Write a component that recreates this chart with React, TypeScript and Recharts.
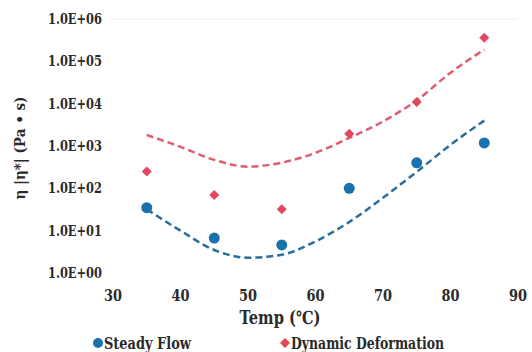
import React from 'react';
import {
  ComposedChart,
  Scatter,
  Line,
  XAxis,
  YAxis,
  ReferenceLine,
} from 'recharts';

// measured points (viscosity in Pa·s)
const temps = [35, 45, 55, 65, 75, 85];
const steadyFlow = [35, 6.7, 4.6, 100, 400, 1180];
const dynamicDeformation = [250, 70, 32, 1940, 11000, 360000];

// trendline readings
const trendTemps = [35, 40, 45, 50, 55, 60, 65, 70, 75, 80, 85];
const steadyTrend = [32, 10, 3.5, 2.3, 2.7, 5.6, 16, 60, 245, 1070, 3980];
const dynamicTrend = [1820, 955, 470, 325, 405, 690, 1550, 3800, 12000, 53700, 190000];

const xTicks = [30, 40, 50, 60, 70, 80, 90];
const yTicks = [1, 10, 100, 1000, 10000, 100000, 1000000];

const BLUE = '#1872ad';
const BLUE_LINE = '#2a6f9c';
const RED = '#e2475d';
const RED_LINE = '#e05d70';
const INK = '#2a2a2a';
const FONT = '"DejaVu Serif", serif';

const steadyData = temps.map((t, i) => ({ temp: t, value: steadyFlow[i] }));
const dynamicData = temps.map((t, i) => ({ temp: t, value: dynamicDeformation[i] }));
const steadyTrendData = trendTemps.map((t, i) => ({ temp: t, value: steadyTrend[i] }));
const dynamicTrendData = trendTemps.map((t, i) => ({ temp: t, value: dynamicTrend[i] }));

const fmtExp = (v: number) =>
  `1.0E+${String(Math.round(Math.log10(v))).padStart(2, '0')}`;

// DejaVu Serif is wide, so labels get squeezed to a Times-like width
const SerifText = ({ width, size, children, ...rest }: any) => (
  <text
    {...rest}
    textLength={width}
    lengthAdjust="spacingAndGlyphs"
    style={{ fontFamily: FONT, fontWeight: 'bold', fontSize: size }}
    fill={INK}
  >
    {children}
  </text>
);

const Dot = (props: any) => (
  <circle cx={props.cx} cy={props.cy} r={5.5} fill={BLUE} />
);

const Diamond = (props: any) => {
  const { cx, cy } = props;
  const s = 5;
  return (
    <polygon
      points={`${cx},${cy - s} ${cx + s},${cy} ${cx},${cy + s} ${cx - s},${cy}`}
      fill={RED}
    />
  );
};

const XTick = (props: any) => {
  const { x, y, payload } = props;
  return (
    <SerifText x={x} y={y + 18} textAnchor="middle" size={16} width={18}>
      {payload.value}
    </SerifText>
  );
};

const YTick = (props: any) => {
  const { x, y, payload } = props;
  return (
    <SerifText x={x} y={y + 5} textAnchor="end" size={15} width={54}>
      {fmtExp(payload.value)}
    </SerifText>
  );
};

const YTitle = (props: any) => {
  const { viewBox } = props;
  const x = viewBox.x + 20;
  const y = viewBox.y + viewBox.height / 2 + 2;
  return (
    <g transform={`rotate(-90 ${x} ${y})`}>
      <SerifText x={x} y={y + 5} textAnchor="middle" size={14} width={103}>
        η |η*| (Pa • s)
      </SerifText>
    </g>
  );
};

const XTitle = (props: any) => {
  const { viewBox } = props;
  return (
    <SerifText x={viewBox.x + 167} y={viewBox.y + 51} textAnchor="middle" size={18} width={81}>
      Temp (℃)
    </SerifText>
  );
};

const legendItems = [
  { name: 'Steady Flow', x: 98, marker: 'circle', color: BLUE, width: 87 },
  { name: 'Dynamic Deformation', x: 285, marker: 'diamond', color: RED, width: 153 },
];

const ChartLegend = () => (
  <svg
    width={532}
    height={22}
    style={{ position: 'absolute', left: 0, top: 332 }}
  >
    {legendItems.map((item) => (
      <g key={item.name}>
        {item.marker === 'circle' ? (
          <circle cx={item.x} cy={11} r={5} fill={item.color} />
        ) : (
          <polygon
            points={`${item.x},6 ${item.x + 5},11 ${item.x},16 ${item.x - 5},11`}
            fill={item.color}
          />
        )}
        <SerifText x={item.x + 6} y={17} size={16} width={item.width}>
          {item.name}
        </SerifText>
      </g>
    ))}
  </svg>
);

export default function App() {
  return (
    <div style={{ position: 'relative', width: 532, height: 352, background: '#fff' }}>
      <style>{'body{margin:0;}'}</style>
      <ComposedChart
        width={532}
        height={352}
        margin={{ top: 19, right: 14, bottom: 49, left: 0 }}
      >
        <XAxis
          type="number"
          dataKey="temp"
          domain={[30, 90]}
          ticks={xTicks}
          allowDataOverflow
          axisLine={false}
          tickLine={false}
          tickSize={0}
          tickMargin={10}
          tick={<XTick />}
          label={<XTitle />}
        />
        <YAxis
          type="number"
          dataKey="value"
          scale="log"
          domain={[1, 1000000]}
          ticks={yTicks}
          allowDataOverflow
          width={113}
          axisLine={false}
          tickLine={false}
          tickSize={0}
          tickMargin={11}
          tick={<YTick />}
          label={<YTitle />}
        />
        <ReferenceLine y={1000000} stroke="#ececec" strokeWidth={1} />
        <Line
          data={dynamicTrendData}
          dataKey="value"
          type="monotone"
          stroke={RED_LINE}
          strokeWidth={2.5}
          strokeDasharray="7 4"
          dot={false}
          activeDot={false}
          legendType="none"
          isAnimationActive={false}
        />
        <Line
          data={steadyTrendData}
          dataKey="value"
          type="monotone"
          stroke={BLUE_LINE}
          strokeWidth={2.5}
          strokeDasharray="7 4"
          dot={false}
          activeDot={false}
          legendType="none"
          isAnimationActive={false}
        />
        <Scatter
          name="Steady Flow"
          data={steadyData}
          dataKey="value"
          shape={<Dot />}
          isAnimationActive={false}
        />
        <Scatter
          name="Dynamic Deformation"
          data={dynamicData}
          dataKey="value"
          shape={<Diamond />}
          isAnimationActive={false}
        />
      </ComposedChart>
      <ChartLegend />
    </div>
  );
}
